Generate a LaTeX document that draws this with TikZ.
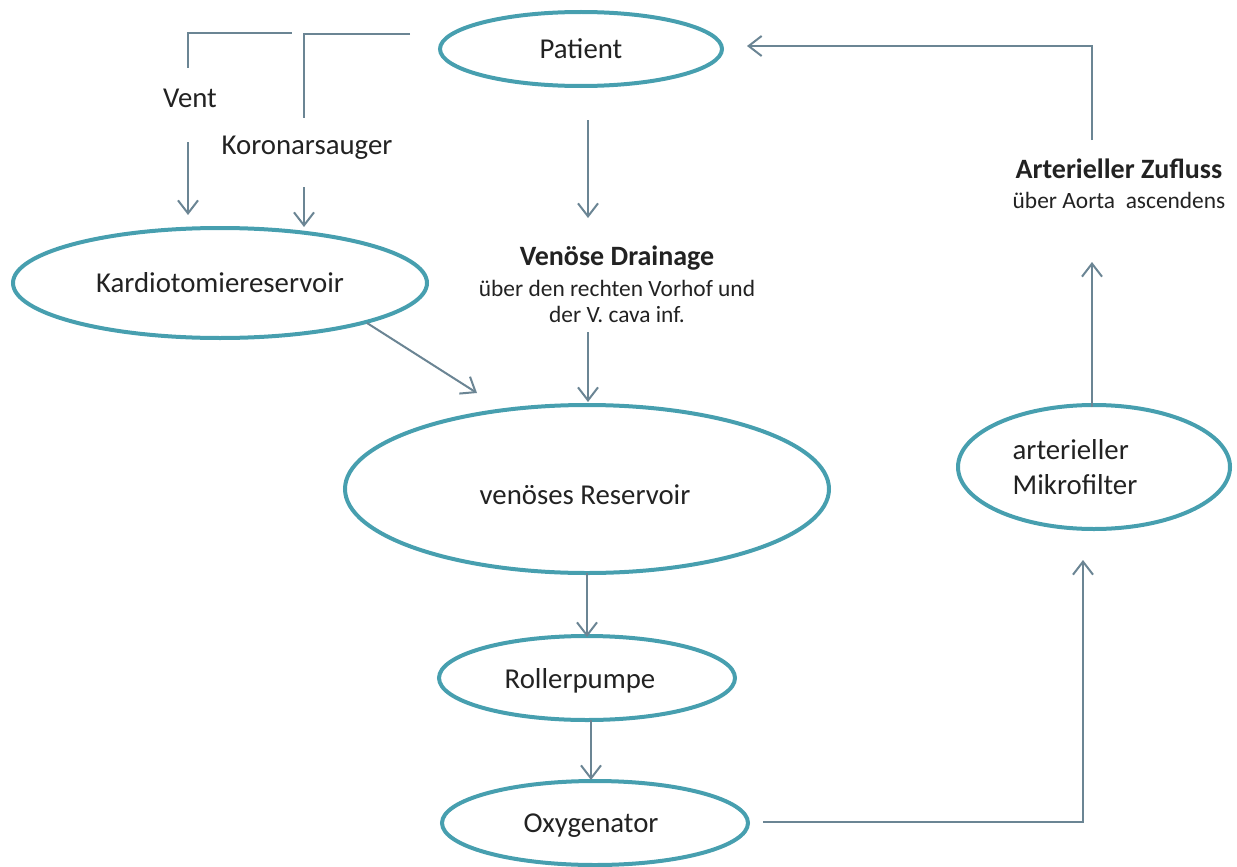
\documentclass[tikz,border=0pt]{standalone}
\usepackage{fontspec}
\setmainfont{Carlito}
\usetikzlibrary{arrows.meta,shapes.geometric}
\definecolor{ring}{HTML}{479FAF}
\definecolor{conn}{HTML}{6B8594}
\definecolor{txt}{HTML}{222222}
\begin{document}
\begin{tikzpicture}[x=1pt,y=-1pt,
  blob/.style={ellipse, draw=ring, line width=4pt, inner sep=0pt, text=txt, font=\fontsize{28.8}{35}\selectfont},
  lbl/.style={text=txt, inner sep=0pt, font=\fontsize{28.8}{35}\selectfont},
  ttl/.style={text=txt, inner sep=0pt, font=\bfseries\fontsize{28}{32}\selectfont},
  sub/.style={text=txt, inner sep=0pt, font=\fontsize{23.4}{27}\selectfont},
  wire/.style={draw=conn, line width=2pt},
  arr/.style={wire, -{Straight Barb[length=13pt, width=20pt, line width=2pt]}}]
\useasboundingbox (0,0) rectangle (1237,867);

% nodes
\node[blob, minimum width=282, minimum height=74] (patient) at (581,49) {Patient};
\node[blob, minimum width=414, minimum height=110] (kardio) at (220,283) {Kardiotomiereservoir};
\node[blob, minimum width=484, minimum height=168] (venres) at (587,489) {};
\node[lbl] (venrestxt) at (585,495) {venöses Reservoir};
\node[blob, minimum width=296, minimum height=84] (roller) at (587,678) {};
\node[lbl] (rollertxt) at (580,681) {Rollerpumpe};
\node[blob, minimum width=306, minimum height=84] (oxy) at (595,823) {};
\node[lbl] (oxytxt) at (591,826) {Oxygenator};
\node[blob, minimum width=272, minimum height=124] (mikro) at (1094,467) {};
\node[lbl, align=left] (mikrotxt) at (1075,467) {arterieller\\Mikrofilter};

% labels
\node[lbl] (vent) at (190,98) {Vent};
\node[lbl] (koron) at (307,148) {Koronarsauger};
\node[ttl, anchor=base] (drain) at (617,265) {Venöse Drainage};
\node[sub, anchor=base] (drainsub1) at (617,296) {über den rechten Vorhof und};
\node[sub, anchor=base] (drainsub2) at (617,322) {der V. cava inf.};
\node[ttl, anchor=base] (art) at (1119,178) {Arterieller Zufluss};
\node[sub, anchor=base] (artsub) at (1119,208) {über Aorta\ \ ascendens};

% connector end points
\coordinate (ventA) at (188,68);
\coordinate (ventB) at (292,33);
\coordinate (ventC) at (188,142);
\coordinate (ventD) at (188,215);
\coordinate (korA) at (410,34);
\coordinate (korB) at (304,118);
\coordinate (korC) at (304,187);
\coordinate (korD) at (304,227);
\coordinate (patA) at (588,120);
\coordinate (patB) at (588,218);
\coordinate (drA) at (588,332);
\coordinate (drB) at (588,402);
\coordinate (kaA) at (367,323);
\coordinate (kaB) at (477,393);
\coordinate (vrA) at (587,573);
\coordinate (vrB) at (587,637);
\coordinate (roA) at (591,720);
\coordinate (roB) at (591,780);
\coordinate (oxA) at (763,822);
\coordinate (oxB) at (1083,822);
\coordinate (oxC) at (1083,560);
\coordinate (miA) at (1092,407);
\coordinate (miB) at (1092,262);
\coordinate (arA) at (1092,140);
\coordinate (arB) at (747,46);

% connectors
\draw[wire] (ventA) |- (ventB);
\draw[arr] (ventC) -- (ventD);
\draw[wire] (korA) -| (korB);
\draw[arr] (korC) -- (korD);
\draw[arr] (patA) -- (patB);
\draw[arr] (drA) -- (drB);
\draw[arr] (kaA) -- (kaB);
\draw[arr] (vrA) -- (vrB);
\draw[arr] (roA) -- (roB);
\draw[arr] (oxA) -- (oxB) -- (oxC);
\draw[arr] (miA) -- (miB);
\draw[arr] (arA) |- (arB);
\end{tikzpicture}
\end{document}
